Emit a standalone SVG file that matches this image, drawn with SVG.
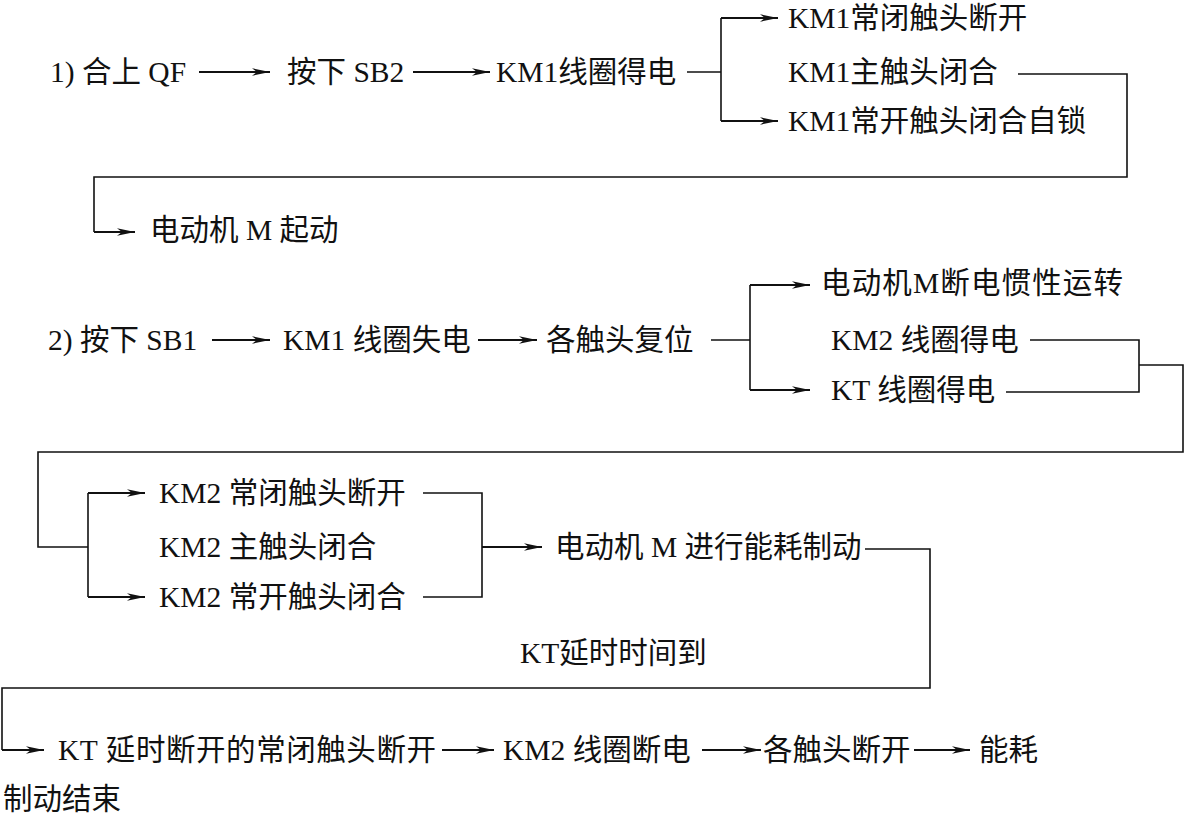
<svg xmlns="http://www.w3.org/2000/svg" width="1185" height="817" viewBox="0 0 1185 817">
<style>
text{font-family:"Liberation Serif","Noto Sans CJK SC",serif;font-size:29.5px;fill:#111}
.c{fill:none;stroke:#111;stroke-width:1.6}
.a{fill:none;stroke:#111;stroke-width:1.8;marker-end:url(#ah)}
</style>
<defs>
<marker id="ah" markerUnits="userSpaceOnUse" markerWidth="20" markerHeight="10" refX="18" refY="4" orient="auto" viewBox="0 0 20 10">
<path d="M0,0.3 L18,4 L0,7.7 L5,4 z" fill="#111"/>
</marker>
</defs>
<rect width="1185" height="817" fill="#fff"/>
<g id="connectors">
<path class="a" d="M199,72 H270"/>
<path class="a" d="M413,72 H490"/>
<path class="c" d="M687,72 H721"/>
<path class="c" d="M721,18 V121"/>
<path class="a" d="M721,18 H778"/>
<path class="a" d="M721,121 H778"/>
<path class="c" d="M1018,74 H1127 V177 H94 V232"/>
<path class="a" d="M94,232 H135"/>
<path class="a" d="M212,340 H270"/>
<path class="a" d="M478,340 H537"/>
<path class="c" d="M711,340 H750"/>
<path class="c" d="M750,285 V390"/>
<path class="a" d="M750,285 H810"/>
<path class="a" d="M750,390 H810"/>
<path class="c" d="M1030,340 H1139 V392 H1006"/>
<path class="c" d="M1139,365 H1183 V452 H38 V547 H88"/>
<path class="c" d="M88,493 V597"/>
<path class="a" d="M88,493 H145"/>
<path class="a" d="M88,597 H145"/>
<path class="c" d="M423,493 H482 V597 H423"/>
<path class="a" d="M482,547 H542"/>
<path class="c" d="M865,549 H930 V688 H2 V750"/>
<path class="a" d="M2,750 H44"/>
<path class="a" d="M442,750 H494"/>
<path class="a" d="M702,750 H761"/>
<path class="a" d="M914,750 H970"/>
</g>
<g id="n1"><text x="50" y="82">1) 合上 QF</text></g>
<g id="n2"><text x="287" y="82">按下 SB2</text></g>
<g id="n3"><text x="496" y="82">KM1线圈得电</text></g>
<g id="n4"><text x="788" y="28">KM1常闭触头断开</text></g>
<g id="n5"><text x="788" y="82">KM1主触头闭合</text></g>
<g id="n6"><text x="788" y="131">KM1常开触头闭合自锁</text></g>
<g id="n7"><text x="150" y="240">电动机 M 起动</text></g>
<g id="n8"><text x="48" y="350">2) 按下 SB1</text></g>
<g id="n9"><text x="283" y="350">KM1 线圈失电</text></g>
<g id="n10"><text x="546" y="350">各触头复位</text></g>
<g id="n11"><text x="821" y="293" textLength="302">电动机M断电惯性运转</text></g>
<g id="n12"><text x="831" y="350">KM2 线圈得电</text></g>
<g id="n13"><text x="831" y="400">KT 线圈得电</text></g>
<g id="n14"><text x="159" y="503">KM2 常闭触头断开</text></g>
<g id="n15"><text x="159" y="557">KM2 主触头闭合</text></g>
<g id="n16"><text x="159" y="607">KM2 常开触头闭合</text></g>
<g id="n17"><text x="555" y="557">电动机 M 进行能耗制动</text></g>
<g id="n18"><text x="520" y="663">KT延时时间到</text></g>
<g id="n19"><text x="58" y="760" textLength="378">KT 延时断开的常闭触头断开</text></g>
<g id="n20"><text x="503" y="760">KM2 线圈断电</text></g>
<g id="n21"><text x="763" y="760">各触头断开</text></g>
<g id="n22"><text x="979" y="760">能耗</text></g>
<g id="n23"><text x="3" y="809">制动结束</text></g>
</svg>
